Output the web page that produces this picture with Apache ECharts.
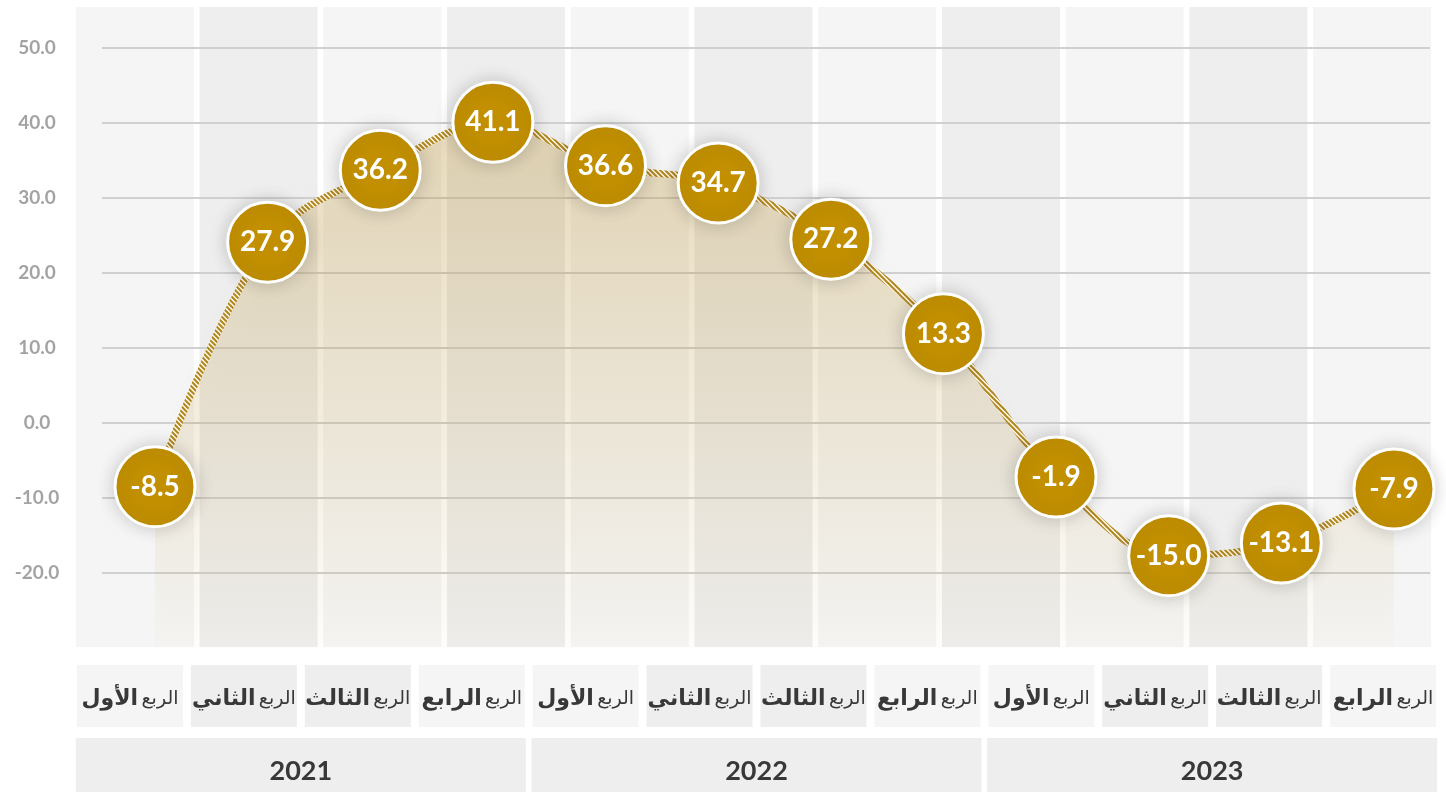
<!DOCTYPE html>
<html>
<head>
<meta charset="utf-8">
<script src="https://cdn.jsdelivr.net/npm/echarts@6/dist/echarts.min.js"></script>
<style>
  html, body { margin: 0; padding: 0; background: #fff; }
  #chart { width: 1446px; height: 792px; }
</style>
</head>
<body>
<div id="chart"></div>
<script>
var quarters = ['الأول', 'الثاني', 'الثالث', 'الرابع'];
var years = ['2021', '2022', '2023'];
// values printed in the bubbles
var labels = [-8.5, 27.9, 36.2, 41.1, 36.6, 34.7, 27.2, 13.3, -1.9, -15.0, -13.1, -7.9];
// where the bubbles sit against the y axis in the picture
var plotted = [-8.5, 24.1, 33.7, 40.1, 34.3, 32.0, 24.5, 11.9, -7.2, -17.7, -16.0, -8.8];
var bandCount = 11;

var FONT = 'Lato, "DejaVu Sans", sans-serif';
var GOLD = '#c18f00';

// diagonal hatch used for the line stroke
var hatch = document.createElement('canvas');
hatch.width = 5; hatch.height = 5;
var hc = hatch.getContext('2d');
hc.fillStyle = 'rgba(255,250,235,0.9)';
hc.fillRect(0, 0, 5, 5);
hc.strokeStyle = '#b0861f';
hc.lineWidth = 2;
hc.beginPath();
hc.moveTo(-1, -1); hc.lineTo(6, 6);
hc.moveTo(4, -1); hc.lineTo(6, 1);
hc.moveTo(-1, 4); hc.lineTo(1, 6);
hc.stroke();

var quarterLabels = [];
years.forEach(function (y) {
  quarters.forEach(function (q) { quarterLabels.push(q); });
});

var chart = echarts.init(document.getElementById('chart'));

chart.setOption({
  backgroundColor: '#ffffff',
  animation: false,
  grid: [
    { left: 73, right: 12, top: 7, bottom: 145 },
    { left: 102, right: 16, top: 10.5, bottom: 144 },
    { left: 73, right: 6, top: 665, height: 62 },
    { left: 73, right: 6, top: 738, bottom: 0 }
  ],
  xAxis: [
    { gridIndex: 0, type: 'category', data: Array(bandCount).fill(0).map(function (e, i) { return i; }), show: false },
    { gridIndex: 1, type: 'value', min: -0.4705, max: 11.32, show: false },
    { gridIndex: 2, type: 'category', data: quarterLabels.map(function (q, i) { return i; }), show: false },
    { gridIndex: 3, type: 'category', data: years, show: false }
  ],
  yAxis: [
    { gridIndex: 0, type: 'value', min: 0, max: 1, show: false },
    {
      gridIndex: 1,
      type: 'value',
      min: -30,
      max: 55,
      interval: 10,
      axisLine: { show: false },
      axisTick: { show: false },
      axisLabel: {
        showMinLabel: false,
        showMaxLabel: false,
        align: 'center',
        margin: 65,
        color: '#a3a3a3',
        fontFamily: FONT,
        fontWeight: 'bold',
        fontSize: 19,
        formatter: function (v) { return v.toFixed(1); }
      },
      splitLine: {
        showMinLine: false,
        showMaxLine: false,
        lineStyle: { color: '#d0d0d0', width: 2 }
      }
    },
    { gridIndex: 2, type: 'value', min: 0, max: 1, show: false },
    { gridIndex: 3, type: 'value', min: 0, max: 1, show: false }
  ],
  series: [
    {
      type: 'bar',
      xAxisIndex: 0,
      yAxisIndex: 0,
      z: -1,
      barWidth: 118,
      silent: true,
      data: Array(bandCount).fill(1).map(function (v, i) {
        return { value: v, itemStyle: { color: i % 2 === 0 ? '#f5f5f5' : '#eeeeee' } };
      })
    },
    {
      type: 'line',
      xAxisIndex: 1,
      yAxisIndex: 1,
      z: 5,
      smooth: 0.35,
      symbol: 'circle',
      symbolSize: 80,
      data: plotted.map(function (v, i) { return [i, v, labels[i]]; }),
      lineStyle: {
        width: 7,
        color: { image: hatch, repeat: 'repeat' }
      },
      areaStyle: {
        origin: 'start',
        color: new echarts.graphic.LinearGradient(0, 0, 0, 1, [
          { offset: 0, color: 'rgba(196,156,62,0.48)' },
          { offset: 1, color: 'rgba(196,156,62,0.03)' }
        ]),
        shadowColor: 'rgba(0,0,0,0.07)',
        shadowBlur: 24
      },
      itemStyle: {
        color: GOLD,
        borderColor: '#ffffff',
        borderWidth: 3,
        shadowColor: 'rgba(0,0,0,0.18)',
        shadowBlur: 18
      },
      label: {
        show: true,
        position: 'inside',
        color: '#ffffff',
        fontFamily: FONT,
        fontWeight: 'bold',
        fontSize: 28,
        formatter: function (p) { return p.value[2].toFixed(1); }
      }
    },
    {
      type: 'bar',
      xAxisIndex: 2,
      yAxisIndex: 2,
      barWidth: 106,
      silent: true,
      data: quarterLabels.map(function (q, i) {
        var k = i % 4;
        return { value: 1, name: q, itemStyle: { color: (k === 1 || k === 2) ? '#eeeeee' : '#f5f5f5' } };
      }),
      label: {
        show: true,
        position: 'inside',
        offset: [0, 2],
        formatter: function (p) { return '{b|' + p.name + '} {r|الربع}'; },
        rich: {
          b: { fontFamily: FONT, fontWeight: 'bold', fontSize: 22, color: '#383838' },
          r: { fontFamily: FONT, fontSize: 19, color: '#383838' }
        }
      }
    },
    {
      type: 'bar',
      xAxisIndex: 3,
      yAxisIndex: 3,
      barWidth: 450,
      silent: true,
      itemStyle: { color: '#eeeeee' },
      data: years.map(function () { return 1; }),
      label: {
        show: true,
        position: 'inside',
        offset: [0, 6],
        color: '#383838',
        fontFamily: FONT,
        fontWeight: 'bold',
        fontSize: 27,
        formatter: function (p) { return p.name; }
      }
    }
  ]
});
</script>
</body>
</html>
